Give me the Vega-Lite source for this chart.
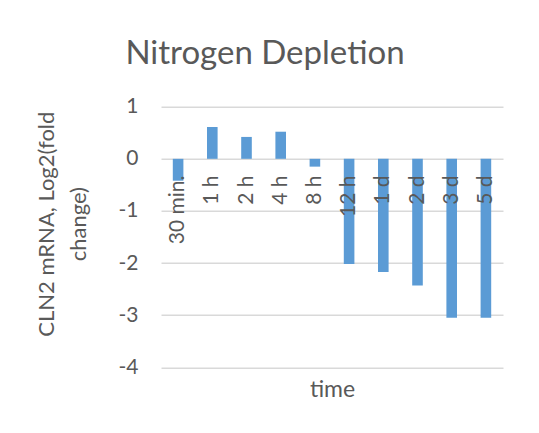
{
  "$schema": "https://vega.github.io/schema/vega-lite/v6.json",
  "autosize": {"type": "none"},
  "width": 342,
  "height": 260.6,
  "padding": {"left": 161, "top": 106.7, "right": 36, "bottom": 65.7},
  "background": "white",
  "title": {
    "text": "Nitrogen Depletion",
    "font": "Lato",
    "fontSize": 33,
    "fontWeight": "normal",
    "color": "#595959",
    "anchor": "middle",
    "frame": "group",
    "baseline": "alphabetic",
    "offset": -1,
    "dx": -67
  },
  "data": {
    "values": [
      {"time": "30 min.", "value": -0.42},
      {"time": "1 h", "value": 0.61},
      {"time": "2 h", "value": 0.42},
      {"time": "4 h", "value": 0.52},
      {"time": "8 h", "value": -0.15},
      {"time": "12 h", "value": -2.02},
      {"time": "1 d", "value": -2.17},
      {"time": "2 d", "value": -2.43},
      {"time": "3 d", "value": -3.05},
      {"time": "5 d", "value": -3.05}
    ]
  },
  "mark": {"type": "bar", "color": "#5b9bd5"},
  "encoding": {
    "x": {
      "field": "time",
      "type": "nominal",
      "sort": null,
      "scale": {"paddingInner": 0.69, "paddingOuter": 0.345},
      "axis": {
        "zindex": 1,
        "title": "time",
        "titleFont": "Lato",
        "titleFontSize": 23,
        "titleFontWeight": "normal",
        "titleColor": "#595959",
        "titleX": 171,
        "titleY": 237.5,
        "titleAlign": "center",
        "titleBaseline": "alphabetic",
        "offset": -208.3,
        "domain": false,
        "ticks": false,
        "tickSize": 0,
        "grid": false,
        "labelAngle": 270,
        "labelAlign": "right",
        "labelBaseline": "middle",
        "labelPadding": 16,
        "labelFont": "Lato",
        "labelFontSize": 21,
        "labelColor": "#595959"
      }
    },
    "y": {
      "field": "value",
      "type": "quantitative",
      "scale": {"domain": [-4, 1], "nice": false, "zero": false},
      "axis": {
        "values": [-4, -3, -2, -1, 0, 1],
        "labelExpr": "'' + datum.value",
        "title": ["CLN2 mRNA, Log2(fold", "change)"],
        "titleFont": "Lato",
        "titleFontSize": 22,
        "titleFontWeight": "normal",
        "titleColor": "#595959",
        "titleAngle": 270,
        "titleAlign": "center",
        "titleBaseline": "alphabetic",
        "titleLineHeight": 32,
        "titleX": -108,
        "titleY": 117,
        "domain": false,
        "ticks": false,
        "tickSize": 0,
        "grid": true,
        "gridColor": "#d9d9d9",
        "gridWidth": 1.5,
        "labelPadding": 23,
        "labelFont": "Lato",
        "labelFontSize": 21,
        "labelColor": "#595959"
      }
    }
  },
  "config": {"view": {"stroke": null}}
}
